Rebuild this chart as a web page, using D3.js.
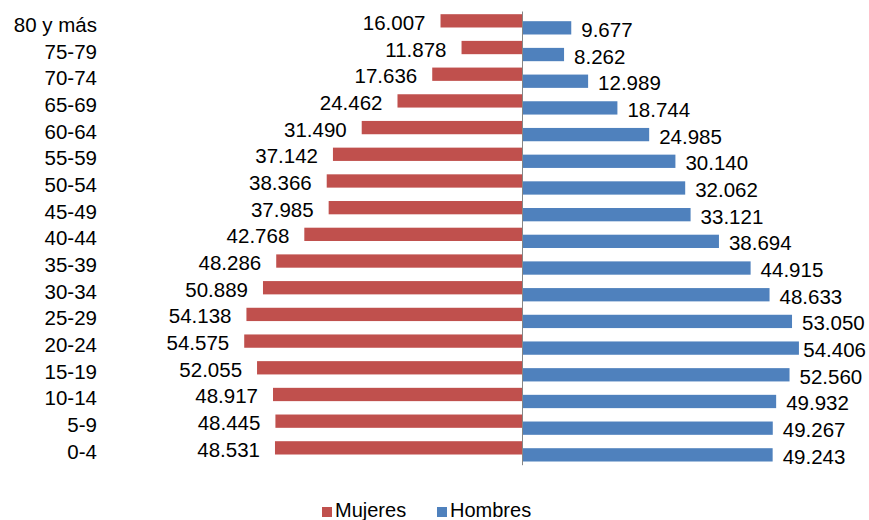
<!DOCTYPE html>
<html>
<head>
<meta charset="utf-8">
<script src="https://cdn.jsdelivr.net/npm/d3@7"></script>
<style>
  html, body { margin: 0; padding: 0; background: #fff; }
  svg { display: block; font-family: "Liberation Sans", Arial, sans-serif; }
</style>
</head>
<body>
<svg id="chart" width="869" height="520"></svg>
<script>
const ageGroups = ["80 y más", "75-79", "70-74", "65-69", "60-64", "55-59", "50-54", "45-49",
  "40-44", "35-39", "30-34", "25-29", "20-24", "15-19", "10-14", "5-9", "0-4"]
const mujeres = [16007, 11878, 17636, 24462, 31490, 37142, 38366, 37985,
  42768, 48286, 50889, 54138, 54575, 52055, 48917, 48445, 48531]
const hombres = [9677, 8262, 12989, 18744, 24985, 30140, 32062, 33121,
  38694, 44915, 48633, 53050, 54406, 52560, 49932, 49267, 49243]
const seriesNames = ["Mujeres", "Hombres"]
const seriesColors = ["#C0504D", "#4F81BD"]

const fmt = (v) => d3.format(",")(v).replace(/,/g, ".")

const svg = d3.select("#chart")
const fontSize = 20.5
const rightLimit = 866

// symmetric value axis, centre of the pyramid at x=522
const x = d3.scaleLinear().domain([-60000, 60000]).range([216.6, 827.4])
const y = d3.scaleBand().domain(ageGroups).range([11, 464.7])
const sub = d3.scalePoint().domain(seriesNames).range([y.bandwidth() / 2 - 3.5, y.bandwidth() / 2 + 3.5])
const barH = 13.3

const rows = ageGroups.map((g, i) => ({g, Mujeres: mujeres[i], Hombres: hombres[i]}))

const g = svg.append("g")

// bars + value labels
seriesNames.forEach((s, si) => {
  const sign = s === "Mujeres" ? -1 : 1
  g.append("g")
    .selectAll("rect")
    .data(rows)
    .join("rect")
    .attr("x", (d) => (sign < 0 ? x(-d[s]) : x(0)))
    .attr("width", (d) => Math.abs(x(sign * d[s]) - x(0)))
    .attr("y", (d) => y(d.g) + sub(s) - barH / 2)
    .attr("height", barH)
    .attr("fill", seriesColors[si])

  g.append("g")
    .selectAll("text")
    .data(rows)
    .join("text")
    .attr("x", (d) => (sign < 0 ? x(-d[s]) - 15 : x(d[s]) + 10))
    .attr("y", (d) => y(d.g) + sub(s) + 1.5)
    .attr("dominant-baseline", "central")
    .attr("text-anchor", sign < 0 ? "end" : "start")
    .attr("font-size", fontSize)
    .attr("fill", "#000")
    .text((d) => fmt(d[s]))
    .each(function () {
      // keep labels inside the chart area, like the original does
      if (sign < 0) return
      const w = this.getComputedTextLength()
      const x0 = +this.getAttribute("x")
      if (x0 + w > rightLimit) this.setAttribute("x", rightLimit - w)
    })
})

// centre axis, category labels on the far left
const axis = svg.append("g")
  .attr("transform", `translate(${x(0)},0)`)
  .call(d3.axisLeft(y).tickSize(0).tickPadding(0))
axis.select(".domain").attr("stroke", "#868686").attr("stroke-width", 1)
axis.selectAll("text")
  .attr("x", 97 - x(0))
  .attr("dy", null)
  .attr("dominant-baseline", "central")
  .attr("font-size", fontSize)
  .attr("font-family", "Liberation Sans, Arial, sans-serif")
  .attr("fill", "#000")

// legend
const legendX = [322, 437]
const legend = svg.append("g")
seriesNames.forEach((s, i) => {
  legend.append("rect")
    .attr("x", legendX[i]).attr("y", 507)
    .attr("width", 10).attr("height", 10)
    .attr("fill", seriesColors[i])
  legend.append("text")
    .attr("x", legendX[i] + 13).attr("y", 517)
    .attr("font-size", 20)
    .attr("fill", "#000")
    .text(s)
})
</script>
</body>
</html>
